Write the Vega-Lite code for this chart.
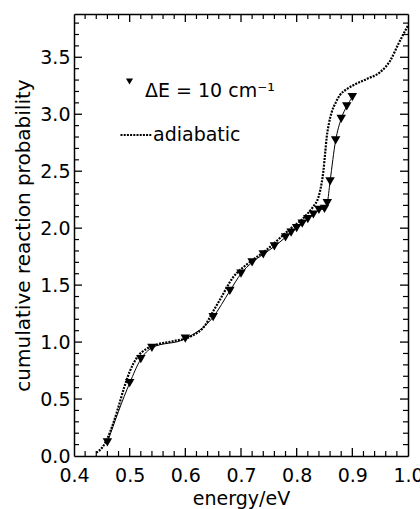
{
  "$schema": "https://vega.github.io/schema/vega-lite/v6.json",
  "width": 334,
  "height": 442,
  "autosize": "none",
  "padding": {"left": 74, "top": 14, "right": 12, "bottom": 53},
  "background": "white",
  "config": {
    "view": {"stroke": null},
    "font": "DejaVu Sans",
    "axis": {
      "grid": false,
      "domainColor": "black",
      "domainWidth": 1.5,
      "labelColor": "black",
      "labelFont": "DejaVu Sans",
      "labelFontSize": 19,
      "titleFont": "DejaVu Sans",
      "titleFontSize": 19,
      "titleFontWeight": "normal",
      "titleColor": "black",
      "labelOverlap": false,
      "labelBound": false,
      "labelFlush": false
    },
    "legend": {
      "labelFont": "DejaVu Sans",
      "labelFontSize": 19,
      "labelColor": "black",
      "padding": 0,
      "orient": "none"
    }
  },
  "datasets": {
    "tri": [
      {"energy": 0.46, "p": 0.12, "series": "ΔE = 10 cm⁻¹"},
      {"energy": 0.50, "p": 0.64, "series": "ΔE = 10 cm⁻¹"},
      {"energy": 0.52, "p": 0.85, "series": "ΔE = 10 cm⁻¹"},
      {"energy": 0.54, "p": 0.95, "series": "ΔE = 10 cm⁻¹"},
      {"energy": 0.60, "p": 1.03, "series": "ΔE = 10 cm⁻¹"},
      {"energy": 0.65, "p": 1.22, "series": "ΔE = 10 cm⁻¹"},
      {"energy": 0.68, "p": 1.45, "series": "ΔE = 10 cm⁻¹"},
      {"energy": 0.70, "p": 1.60, "series": "ΔE = 10 cm⁻¹"},
      {"energy": 0.72, "p": 1.70, "series": "ΔE = 10 cm⁻¹"},
      {"energy": 0.74, "p": 1.77, "series": "ΔE = 10 cm⁻¹"},
      {"energy": 0.76, "p": 1.84, "series": "ΔE = 10 cm⁻¹"},
      {"energy": 0.78, "p": 1.92, "series": "ΔE = 10 cm⁻¹"},
      {"energy": 0.79, "p": 1.96, "series": "ΔE = 10 cm⁻¹"},
      {"energy": 0.80, "p": 2.00, "series": "ΔE = 10 cm⁻¹"},
      {"energy": 0.81, "p": 2.04, "series": "ΔE = 10 cm⁻¹"},
      {"energy": 0.82, "p": 2.08, "series": "ΔE = 10 cm⁻¹"},
      {"energy": 0.83, "p": 2.12, "series": "ΔE = 10 cm⁻¹"},
      {"energy": 0.84, "p": 2.16, "series": "ΔE = 10 cm⁻¹"},
      {"energy": 0.85, "p": 2.17, "series": "ΔE = 10 cm⁻¹"},
      {"energy": 0.855, "p": 2.22, "series": "ΔE = 10 cm⁻¹"},
      {"energy": 0.86, "p": 2.41, "series": "ΔE = 10 cm⁻¹"},
      {"energy": 0.87, "p": 2.77, "series": "ΔE = 10 cm⁻¹"},
      {"energy": 0.88, "p": 2.96, "series": "ΔE = 10 cm⁻¹"},
      {"energy": 0.89, "p": 3.07, "series": "ΔE = 10 cm⁻¹"},
      {"energy": 0.90, "p": 3.15, "series": "ΔE = 10 cm⁻¹"}
    ],
    "adia": [
      {"energy": 0.44, "p": 0.03, "series": "adiabatic"},
      {"energy": 0.45, "p": 0.07, "series": "adiabatic"},
      {"energy": 0.46, "p": 0.155, "series": "adiabatic"},
      {"energy": 0.47, "p": 0.28, "series": "adiabatic"},
      {"energy": 0.478, "p": 0.40, "series": "adiabatic"},
      {"energy": 0.49, "p": 0.60, "series": "adiabatic"},
      {"energy": 0.50, "p": 0.74, "series": "adiabatic"},
      {"energy": 0.514, "p": 0.87, "series": "adiabatic"},
      {"energy": 0.53, "p": 0.94, "series": "adiabatic"},
      {"energy": 0.55, "p": 0.98, "series": "adiabatic"},
      {"energy": 0.58, "p": 1.01, "series": "adiabatic"},
      {"energy": 0.61, "p": 1.05, "series": "adiabatic"},
      {"energy": 0.636, "p": 1.15, "series": "adiabatic"},
      {"energy": 0.65, "p": 1.27, "series": "adiabatic"},
      {"energy": 0.662, "p": 1.37, "series": "adiabatic"},
      {"energy": 0.686, "p": 1.57, "series": "adiabatic"},
      {"energy": 0.71, "p": 1.68, "series": "adiabatic"},
      {"energy": 0.746, "p": 1.81, "series": "adiabatic"},
      {"energy": 0.776, "p": 1.94, "series": "adiabatic"},
      {"energy": 0.79, "p": 2.00, "series": "adiabatic"},
      {"energy": 0.806, "p": 2.06, "series": "adiabatic"},
      {"energy": 0.82, "p": 2.13, "series": "adiabatic"},
      {"energy": 0.83, "p": 2.19, "series": "adiabatic"},
      {"energy": 0.839, "p": 2.27, "series": "adiabatic"},
      {"energy": 0.845, "p": 2.40, "series": "adiabatic"},
      {"energy": 0.848, "p": 2.50, "series": "adiabatic"},
      {"energy": 0.851, "p": 2.65, "series": "adiabatic"},
      {"energy": 0.854, "p": 2.80, "series": "adiabatic"},
      {"energy": 0.858, "p": 2.92, "series": "adiabatic"},
      {"energy": 0.863, "p": 3.02, "series": "adiabatic"},
      {"energy": 0.87, "p": 3.10, "series": "adiabatic"},
      {"energy": 0.878, "p": 3.17, "series": "adiabatic"},
      {"energy": 0.89, "p": 3.22, "series": "adiabatic"},
      {"energy": 0.90, "p": 3.25, "series": "adiabatic"},
      {"energy": 0.926, "p": 3.31, "series": "adiabatic"},
      {"energy": 0.95, "p": 3.37, "series": "adiabatic"},
      {"energy": 0.968, "p": 3.47, "series": "adiabatic"},
      {"energy": 0.983, "p": 3.62, "series": "adiabatic"},
      {"energy": 1.0, "p": 3.78, "series": "adiabatic"}
    ],
    "xmajor": [{"v": 0.5}, {"v": 0.6}, {"v": 0.7}, {"v": 0.8}, {"v": 0.9}],
    "xminor": [{"v": 0.42}, {"v": 0.44}, {"v": 0.46}, {"v": 0.48}, {"v": 0.52}, {"v": 0.54}, {"v": 0.56}, {"v": 0.58}, {"v": 0.62}, {"v": 0.64}, {"v": 0.66}, {"v": 0.68}, {"v": 0.72}, {"v": 0.74}, {"v": 0.76}, {"v": 0.78}, {"v": 0.82}, {"v": 0.84}, {"v": 0.86}, {"v": 0.88}, {"v": 0.92}, {"v": 0.94}, {"v": 0.96}, {"v": 0.98}],
    "ymajor": [{"v": 0.5}, {"v": 1.0}, {"v": 1.5}, {"v": 2.0}, {"v": 2.5}, {"v": 3.0}, {"v": 3.5}],
    "yminor": [{"v": 0.1}, {"v": 0.2}, {"v": 0.3}, {"v": 0.4}, {"v": 0.6}, {"v": 0.7}, {"v": 0.8}, {"v": 0.9}, {"v": 1.1}, {"v": 1.2}, {"v": 1.3}, {"v": 1.4}, {"v": 1.6}, {"v": 1.7}, {"v": 1.8}, {"v": 1.9}, {"v": 2.1}, {"v": 2.2}, {"v": 2.3}, {"v": 2.4}, {"v": 2.6}, {"v": 2.7}, {"v": 2.8}, {"v": 2.9}, {"v": 3.1}, {"v": 3.2}, {"v": 3.3}, {"v": 3.4}, {"v": 3.6}, {"v": 3.7}, {"v": 3.8}]
  },
  "resolve": {"axis": {"x": "independent", "y": "independent"}},
  "layer": [
    {
      "data": {"name": "adia"},
      "mark": {"type": "line", "color": "black", "strokeWidth": 2.2, "interpolate": "monotone"},
      "encoding": {
        "x": {
          "field": "energy", "type": "quantitative",
          "scale": {"domain": [0.4, 1.0], "nice": false, "zero": false},
          "axis": {
            "orient": "bottom",
            "title": "energy/eV",
            "titlePadding": 4,
            "values": [0.4, 0.5, 0.6, 0.7, 0.8, 0.9, 1.0],
            "format": ".1f",
            "ticks": false,
            "labelPadding": 10
          }
        },
        "y": {
          "field": "p", "type": "quantitative",
          "scale": {"domain": [0, 3.88], "nice": false, "zero": false},
          "axis": {
            "orient": "left",
            "title": "cumulative reaction probability",
            "titleFontSize": 20,
            "titlePadding": 6,
            "values": [0, 0.5, 1.0, 1.5, 2.0, 2.5, 3.0, 3.5],
            "format": ".1f",
            "ticks": false,
            "labelPadding": 4
          }
        },
        "strokeDash": {
          "field": "series", "type": "nominal",
          "scale": {"range": [[2, 1.2]]},
          "legend": {"title": null, "symbolType": "stroke", "symbolSize": 961, "symbolStrokeWidth": 2.2, "symbolStrokeColor": "black", "labelOffset": 0, "legendX": 45, "legendY": 104}
        }
      }
    },
    {
      "data": {"name": "tri"},
      "mark": {"type": "line", "color": "black", "strokeWidth": 1, "interpolate": "monotone"},
      "encoding": {
        "x": {
          "field": "energy", "type": "quantitative",
          "scale": {"domain": [0.4, 1.0], "nice": false, "zero": false},
          "axis": {"orient": "top", "title": null, "labels": false, "domain": true, "ticks": false, "values": [0.4]}
        },
        "y": {
          "field": "p", "type": "quantitative",
          "scale": {"domain": [0, 3.88], "nice": false, "zero": false},
          "axis": {"orient": "right", "title": null, "labels": false, "domain": true, "ticks": false, "values": [0]}
        }
      }
    },
    {
      "data": {"name": "tri"},
      "mark": {"type": "point", "filled": true, "color": "black", "opacity": 1, "size": 90},
      "encoding": {
        "x": {"field": "energy", "type": "quantitative", "scale": {"domain": [0.4, 1.0], "nice": false, "zero": false}, "axis": null},
        "y": {"field": "p", "type": "quantitative", "scale": {"domain": [0, 3.88], "nice": false, "zero": false}, "axis": null},
        "shape": {
          "field": "series", "type": "nominal",
          "scale": {"range": ["triangle-down"]},
          "legend": {"title": null, "symbolFillColor": "black", "symbolStrokeColor": "black", "symbolSize": 50, "labelOffset": 6, "labelBaseline": "top", "legendX": 46, "legendY": 58}
        }
      }
    },
    {
      "data": {"name": "xmajor"},
      "mark": {"type": "rule", "color": "black", "strokeWidth": 1.3},
      "encoding": {
        "x": {"field": "v", "type": "quantitative", "scale": {"domain": [0.4, 1.0], "nice": false, "zero": false}, "axis": null},
        "y": {"datum": 0, "type": "quantitative", "scale": {"domain": [0, 3.88], "nice": false, "zero": false}, "axis": null},
        "y2": {"datum": 0.07}
      }
    },
    {
      "data": {"name": "xmajor"},
      "mark": {"type": "rule", "color": "black", "strokeWidth": 1.3},
      "encoding": {
        "x": {"field": "v", "type": "quantitative", "scale": {"domain": [0.4, 1.0], "nice": false, "zero": false}, "axis": null},
        "y": {"datum": 3.88, "type": "quantitative", "scale": {"domain": [0, 3.88], "nice": false, "zero": false}, "axis": null},
        "y2": {"datum": 3.81}
      }
    },
    {
      "data": {"name": "xminor"},
      "mark": {"type": "rule", "color": "black", "strokeWidth": 1.2},
      "encoding": {
        "x": {"field": "v", "type": "quantitative", "scale": {"domain": [0.4, 1.0], "nice": false, "zero": false}, "axis": null},
        "y": {"datum": 0, "type": "quantitative", "scale": {"domain": [0, 3.88], "nice": false, "zero": false}, "axis": null},
        "y2": {"datum": 0.044}
      }
    },
    {
      "data": {"name": "xminor"},
      "mark": {"type": "rule", "color": "black", "strokeWidth": 1.2},
      "encoding": {
        "x": {"field": "v", "type": "quantitative", "scale": {"domain": [0.4, 1.0], "nice": false, "zero": false}, "axis": null},
        "y": {"datum": 3.88, "type": "quantitative", "scale": {"domain": [0, 3.88], "nice": false, "zero": false}, "axis": null},
        "y2": {"datum": 3.836}
      }
    },
    {
      "data": {"name": "ymajor"},
      "mark": {"type": "rule", "color": "black", "strokeWidth": 1.3},
      "encoding": {
        "x": {"datum": 0.4, "type": "quantitative", "scale": {"domain": [0.4, 1.0], "nice": false, "zero": false}, "axis": null},
        "x2": {"datum": 0.4144},
        "y": {"field": "v", "type": "quantitative", "scale": {"domain": [0, 3.88], "nice": false, "zero": false}, "axis": null}
      }
    },
    {
      "data": {"name": "ymajor"},
      "mark": {"type": "rule", "color": "black", "strokeWidth": 1.3},
      "encoding": {
        "x": {"datum": 1.0, "type": "quantitative", "scale": {"domain": [0.4, 1.0], "nice": false, "zero": false}, "axis": null},
        "x2": {"datum": 0.9856},
        "y": {"field": "v", "type": "quantitative", "scale": {"domain": [0, 3.88], "nice": false, "zero": false}, "axis": null}
      }
    },
    {
      "data": {"name": "yminor"},
      "mark": {"type": "rule", "color": "black", "strokeWidth": 1.2},
      "encoding": {
        "x": {"datum": 0.4, "type": "quantitative", "scale": {"domain": [0.4, 1.0], "nice": false, "zero": false}, "axis": null},
        "x2": {"datum": 0.409},
        "y": {"field": "v", "type": "quantitative", "scale": {"domain": [0, 3.88], "nice": false, "zero": false}, "axis": null}
      }
    },
    {
      "data": {"name": "yminor"},
      "mark": {"type": "rule", "color": "black", "strokeWidth": 1.2},
      "encoding": {
        "x": {"datum": 1.0, "type": "quantitative", "scale": {"domain": [0.4, 1.0], "nice": false, "zero": false}, "axis": null},
        "x2": {"datum": 0.991},
        "y": {"field": "v", "type": "quantitative", "scale": {"domain": [0, 3.88], "nice": false, "zero": false}, "axis": null}
      }
    }
  ]
}
